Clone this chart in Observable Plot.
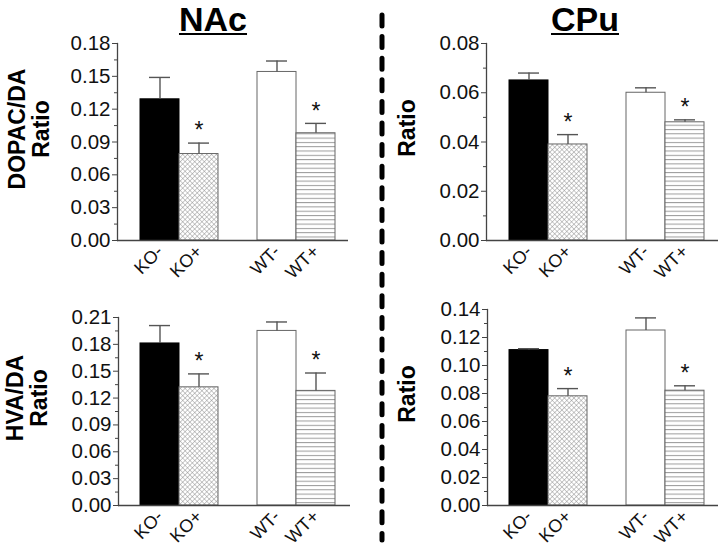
<!DOCTYPE html>
<html>
<head>
<meta charset="utf-8">
<script src="https://cdn.jsdelivr.net/npm/d3@7"></script>
<script src="https://cdn.jsdelivr.net/npm/@observablehq/plot@0.6"></script>
<style>
  body { margin: 0; background: #fff; }
  #fig { position: relative; width: 720px; height: 550px; background: #fff; font-family: "Liberation Sans", Arial, sans-serif; color: #000; }
  .panel { position: absolute; width: 360px; height: 280px; }
  .title { position: absolute; font-size: 34px; font-weight: bold; text-decoration: underline; text-decoration-thickness: 2px; text-underline-offset: 2px; line-height: normal; transform: translateX(-50%); }
  .ylab { position: absolute; font-size: 23px; font-weight: bold; line-height: 24px; text-align: center; white-space: nowrap; transform: translate(-50%, -50%) rotate(-90deg); }
</style>
</head>
<body>
<svg width="0" height="0" style="position:absolute">
  <defs>
    <pattern id="xhatch" width="3.4" height="3.4" patternUnits="userSpaceOnUse" patternTransform="rotate(45)">
      <rect width="3.4" height="3.4" fill="#fff"></rect>
      <path d="M0,0H3.4M0,0V3.4" stroke="#8a8a8a" stroke-width="0.9"></path>
    </pattern>
    <pattern id="hlines" width="6" height="4.3" patternUnits="userSpaceOnUse">
      <rect width="6" height="4.3" fill="#fff"></rect>
      <path d="M0,0.5H6" stroke="#9a9a9a" stroke-width="1"></path>
    </pattern>
  </defs>
</svg>
<div id="fig">
  <div class="title" style="left:213px; top:0">NAc</div>
  <div class="title" style="left:585px; top:0">CPu</div>
  <div class="ylab" style="left:29px; top:129px">DOPAC/DA<br>Ratio</div>
  <div class="ylab" style="left:407px; top:128px">Ratio</div>
  <div class="ylab" style="left:27px; top:398px">HVA/DA<br>Ratio</div>
  <div class="ylab" style="left:407px; top:394px">Ratio</div>
  <svg style="position:absolute; left:375px; top:0" width="14" height="550">
    <line x1="7" x2="7" y1="15" y2="540" stroke="#000" stroke-width="5" stroke-linecap="round" stroke-dasharray="11 10.6"></line>
  </svg>
  <div class="panel" id="tl" style="left:0; top:0"></div>
  <div class="panel" id="tr" style="left:360px; top:0"></div>
  <div class="panel" id="bl" style="left:0; top:270px"></div>
  <div class="panel" id="br" style="left:360px; top:270px"></div>
</div>
<script>
  // grupos y valores
  const groups = ['KO-', 'KO+', 'WT-', 'WT+'];
  const slots = ['KO-', 'KO+', 'gap', 'WT-', 'WT+'];
  const starred = [false, true, false, true];

  const nacDopac = [0.129, 0.079, 0.154, 0.098];
  const nacDopacErr = [0.020, 0.010, 0.010, 0.009];
  const nacDopacTicks = [0, 0.03, 0.06, 0.09, 0.12, 0.15, 0.18];

  const cpuDopac = [0.065, 0.039, 0.060, 0.048];
  const cpuDopacErr = [0.003, 0.004, 0.002, 0.001];
  const cpuDopacTicks = [0, 0.02, 0.04, 0.06, 0.08];

  const nacHva = [0.181, 0.132, 0.195, 0.128];
  const nacHvaErr = [0.020, 0.015, 0.010, 0.020];
  const nacHvaTicks = [0, 0.03, 0.06, 0.09, 0.12, 0.15, 0.18, 0.21];

  const cpuHva = [0.111, 0.078, 0.125, 0.082];
  const cpuHvaErr = [0.001, 0.0055, 0.009, 0.0035];
  const cpuHvaTicks = [0, 0.02, 0.04, 0.06, 0.08, 0.10, 0.12, 0.14];

  const fills = ['#000', 'url(#xhatch)', '#fff', 'url(#hlines)'];
  const strokes = ['#000', '#666', '#666', '#666'];

  function panel(values, errs, ticks, m) {
    const data = groups.map((g, i) => ({
      group: g, value: values[i], top: values[i] + errs[i],
      fill: fills[i], stroke: strokes[i], sig: starred[i],
    }));
    // ticks menores a mitad de camino
    const minor = ticks.slice(1).map((t, i) => (t + ticks[i]) / 2);

    return Plot.plot({
      width: 360,
      height: 280,
      marginLeft: m.left,
      marginRight: m.right,
      marginTop: m.top,
      marginBottom: m.bottom,
      style: { fontFamily: '"Liberation Sans", Arial, sans-serif', fontSize: '20px', color: '#111', background: 'transparent', overflow: 'visible', maxWidth: 'none' },
      x: { type: 'band', domain: slots, padding: 0, insetLeft: m.il, insetRight: m.ir },
      y: { domain: [0, ticks[ticks.length - 1]] },
      color: { type: 'identity' },
      marks: [
        Plot.barY(data, { x: 'group', y: 'value', fill: 'fill', stroke: 'stroke', strokeWidth: 1 }),
        Plot.ruleX(data, { x: 'group', y1: 'value', y2: 'top', stroke: '#555', strokeWidth: 1.4 }),
        Plot.tickY(data, { x: 'group', y: 'top', stroke: '#555', strokeWidth: 1.4, insetLeft: 9, insetRight: 9 }),
        Plot.text(data.filter(d => d.sig), { x: 'group', y: 'top', text: () => '*', dy: -12, fontSize: 23, fill: '#111' }),
        Plot.ruleY([0], { stroke: '#444', strokeWidth: 1.3 }),
        Plot.frame({ anchor: 'left', stroke: '#444', strokeWidth: 1.3 }),
        Plot.axisY({ ticks: ticks, tickSize: 5, tickPadding: 2, tickFormat: d3.format('.2f'), fontSize: 20.5, label: null, stroke: '#444' }),
        Plot.axisY({ ticks: minor, tickSize: 3, tickFormat: () => '', label: null, stroke: '#444' }),
        Plot.axisX({ ticks: groups, tickSize: 0, tickRotate: -45, tickPadding: 8, fontSize: 18, label: null }),
      ],
    });
  }

  d3.select('#tl').append(() => panel(nacDopac, nacDopacErr, nacDopacTicks, { left: 117, right: 12, top: 43, bottom: 40, il: 22, ir: 12 }));
  d3.select('#tr').append(() => panel(cpuDopac, cpuDopacErr, cpuDopacTicks, { left: 126, right: 2, top: 43, bottom: 40, il: 22, ir: 14 }));
  d3.select('#bl').append(() => panel(nacHva, nacHvaErr, nacHvaTicks, { left: 118, right: 10, top: 47, bottom: 45, il: 21, ir: 14 }));
  d3.select('#br').append(() => panel(cpuHva, cpuHvaErr, cpuHvaTicks, { left: 127, right: 2, top: 39, bottom: 45, il: 21, ir: 14 }));
</script>
</body>
</html>
